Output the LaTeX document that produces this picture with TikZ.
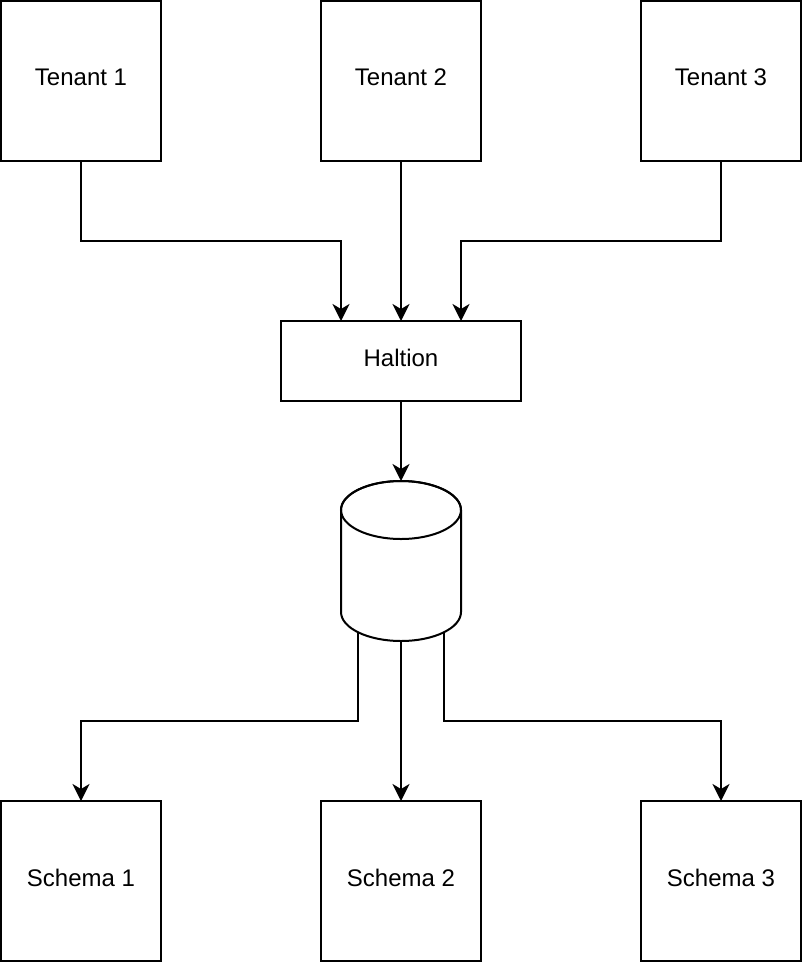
\documentclass[tikz,border=0pt]{standalone}
\usepackage{fontspec}
\setmainfont{Liberation Sans}
\usetikzlibrary{arrows.meta}
\begin{document}
\begin{tikzpicture}[x=1pt,y=-1pt,
  base/.style={draw=black,line width=2pt,fill=white,inner sep=0pt,outer sep=0pt,text depth=7pt,font=\fontsize{24}{28}\selectfont},
  box/.style={base,minimum width=160pt,minimum height=160pt},
  wbox/.style={base,minimum width=240pt,minimum height=80pt},
  arr/.style={line width=2pt,-{Stealth[length=17pt,width=17pt,inset=5pt]}}]
\fill[white] (0,0) rectangle (802,964);
\useasboundingbox (0,0) rectangle (802,964);
\node[box] (t1) at (81,81) {Tenant 1};
\node[box] (t2) at (401,81) {Tenant 2};
\node[box] (t3) at (721,81) {Tenant 3};
\node[wbox] (h) at (401,361) {Haltion};
\node[box] (s1) at (81,881) {Schema 1};
\node[box] (s2) at (401,881) {Schema 2};
\node[box] (s3) at (721,881) {Schema 3};
% cylinder
\draw[line width=2pt,fill=white] (341,510) -- (341,612) arc[start angle=180,end angle=360,x radius=60pt,y radius=29pt] -- (461,510) arc[start angle=0,end angle=180,x radius=60pt,y radius=29pt] -- cycle;
\draw[line width=2pt] (401,510) ellipse[x radius=60pt,y radius=29pt];
\coordinate (cT) at (401,481);
\coordinate (cB) at (401,641);
\coordinate (cL) at (358,632);
\coordinate (cR) at (444,632);
\coordinate (hA) at (341,321);
\coordinate (hC) at (461,321);
% connectors
\draw[arr] (t1.south) -- ++(0,80) -| (hA);
\draw[arr] (t2.south) -- (h.north);
\draw[arr] (t3.south) -- ++(0,80) -| (hC);
\draw[arr] (h.south) -- (cT);
\draw[arr] (cL) -- (cL |- 0,721) -| (s1.north);
\draw[arr] (cB) -- (s2.north);
\draw[arr] (cR) -- (cR |- 0,721) -| (s3.north);
\end{tikzpicture}
\end{document}
